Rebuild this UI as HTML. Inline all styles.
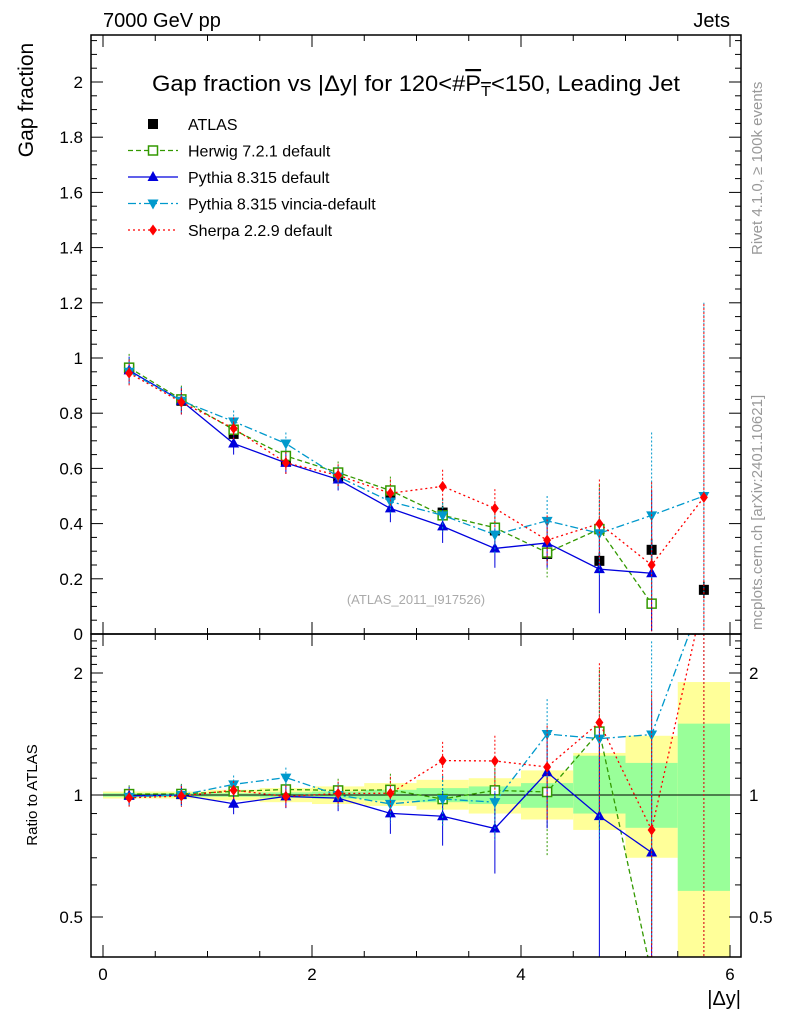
<!DOCTYPE html>
<html><head><meta charset="utf-8"><style>
html,body{margin:0;padding:0;background:#fff;width:786px;height:1024px;overflow:hidden}
svg{display:block}
svg text{font-family:"Liberation Sans",sans-serif}
</style></head><body>
<svg id="c" width="786" height="1024" xmlns="http://www.w3.org/2000/svg">
<text x="103" y="27" font-size="20">7000 GeV pp</text>
<text x="730" y="27" font-size="20" text-anchor="end">Jets</text>
<text x="0" y="0" font-size="21" transform="translate(33,100) rotate(-90)" text-anchor="middle">Gap fraction</text>
<text x="0" y="0" font-size="15" transform="translate(37,795) rotate(-90)" text-anchor="middle">Ratio to ATLAS</text>
<text x="741" y="1005" font-size="20" text-anchor="end">|Δy|</text>
<text x="0" y="0" font-size="15" fill="#999" transform="translate(762,255) rotate(-90)">Rivet 4.1.0, ≥ 100k events</text>
<text x="0" y="0" font-size="15" fill="#999" transform="translate(762,630) rotate(-90)">mcplots.cern.ch [arXiv:2401.10621]</text>
<text x="416" y="604" font-size="13" fill="#aaa" text-anchor="middle">(ATLAS_2011_I917526)</text>
<text x="416" y="91" font-size="22" text-anchor="middle" textLength="528" lengthAdjust="spacingAndGlyphs">Gap fraction vs |Δy| for 120&lt;#<tspan text-decoration="overline">P<tspan font-size="15" dy="5">T</tspan></tspan><tspan dy="-5">&lt;150, Leading Jet</tspan></text>
<g id="bands"></g><g id="marks"></g><g id="axes"></g>
</svg>
<script>
const xCenters=[0.25,0.75,1.25,1.75,2.25,2.75,3.25,3.75,4.25,4.75,5.25,5.75];
const atlas=[0.96,0.845,0.725,0.625,0.57,0.505,0.44,0.375,0.29,0.265,0.305,0.16];
const atlasErr=[0.01,0.01,0.015,0.015,0.015,0.02,0.025,0.025,0.025,0.03,0.04,0.03];
const statUp=[0.01,0.01,0.01,0.015,0.02,0.03,0.04,0.05,0.07,0.25,0.2,0.5];
const statDn=[0.01,0.01,0.01,0.015,0.02,0.03,0.04,0.05,0.07,0.1,0.17,0.42];
const totUp=[0.02,0.02,0.03,0.04,0.05,0.07,0.09,0.1,0.15,0.27,0.4,0.9];
const totDn=[0.02,0.02,0.03,0.04,0.05,0.06,0.08,0.1,0.13,0.18,0.3,0.65];
const herwig=[0.965,0.85,0.74,0.645,0.585,0.52,0.43,0.385,0.295,0.38,0.11,null];
const pythia=[0.955,0.845,0.69,0.62,0.56,0.455,0.39,0.31,0.33,0.235,0.22,null];
const vincia=[0.95,0.845,0.77,0.69,0.57,0.48,0.43,0.36,0.41,0.365,0.43,0.5];
const sherpa=[0.945,0.84,0.745,0.62,0.575,0.51,0.535,0.455,0.34,0.40,0.25,0.495];
const mcErr=[0.05,0.05,0.04,0.04,0.04,0.05,0.06,0.07,0.09,0.16,0.3,0.7];
const yTicks=[0,0.2,0.4,0.6,0.8,1,1.2,1.4,1.6,1.8,2];
const rTicks=[0.5,1,2];
const xTicks=[0,2,4,6];
const NS="http://www.w3.org/2000/svg";
const L=91,Rt=741,T=35,M=634,B=957;
const clamp=(v,a,b)=>Math.max(a,Math.min(b,v));
const X=v=>103+v*104.5;
const Y=v=>clamp(634-v*276,T,M);
const R=v=>clamp(795-Math.log2(Math.max(v,0.01))*122,M,B);
function el(t,a,p){const e=document.createElementNS(NS,t);for(const k in a)e.setAttribute(k,a[k]);p.appendChild(e);return e;}
const svg=document.getElementById('c');
const bands=document.getElementById('bands'),marks=document.getElementById('marks'),axes=document.getElementById('axes');
const defs=el('defs',{},svg);
const clipR=el('clipPath',{id:'cr'},defs);el('rect',{x:L,y:M,width:Rt-L,height:B-M},clipR);
const clipM=el('clipPath',{id:'cm'},defs);el('rect',{x:L,y:T,width:Rt-L,height:M-T},clipM);
bands.setAttribute('clip-path','url(#cr)');
xCenters.forEach((x,i)=>{
 let r=el('rect',{x:X(x-0.25),y:R(1+totUp[i]),width:104.5/2,height:R(1-totDn[i])-R(1+totUp[i]),fill:'#ffff99'},bands);
 
 let g=el('rect',{x:X(x-0.25),y:R(1+statUp[i]),width:104.5/2,height:R(1-statDn[i])-R(1+statUp[i]),fill:'#99ff99'},bands);
 
});
el('line',{x1:L,x2:Rt,y1:R(1),y2:R(1),stroke:'#000','stroke-width':1},bands);
const series=[
 {d:herwig,c:'#339900',dash:'5,3',m:'sq',name:'herwig'},
 {d:pythia,c:'#0000dd',dash:'',m:'tri',name:'pythia'},
 {d:vincia,c:'#0099cc',dash:'8,3,2,3',m:'itri',name:'vincia'},
 {d:sherpa,c:'#ff0000',dash:'2,3',m:'dia',name:'sherpa'}];
function marker(type,cx,cy,c,p){
 if(type=='sq')return el('rect',{x:cx-4.5,y:cy-4.5,width:9,height:9,fill:'#fff',stroke:c,'stroke-width':1.5},p);
 if(type=='tri')return el('polygon',{points:`${cx},${cy-6} ${cx-5.5},${cy+4} ${cx+5.5},${cy+4}`,fill:c},p);
 if(type=='itri')return el('polygon',{points:`${cx},${cy+6} ${cx-5.5},${cy-4} ${cx+5.5},${cy-4}`,fill:c},p);
 if(type=='dia')return el('polygon',{points:`${cx},${cy-5.5} ${cx-4},${cy} ${cx},${cy+5.5} ${cx+4},${cy}`,fill:c},p);
 return el('rect',{x:cx-5,y:cy-5,width:10,height:10,fill:'#000'},p);
}
function drawPanel(useRatio,clip){
 const g=el('g',{'clip-path':clip},marks);
 const lin=useRatio?(v=>795-Math.log2(v)*122):(v=>634-v*276);
 const fy=useRatio?R:Y;
 const top=useRatio?M:T, bot=useRatio?B:M;
 if(!useRatio){atlas.forEach((v,i)=>{const cx=X(xCenters[i]);
  el('line',{x1:cx,x2:cx,y1:fy(v+atlasErr[i]),y2:fy(v-atlasErr[i]),stroke:'#000','stroke-width':1.5},g);
  let m=marker('atl',cx,fy(v),'#000',g);});}
 series.forEach(s=>{
  const pts=[];
  s.d.forEach((v,i)=>{if(v==null)return;const val=useRatio?v/atlas[i]:v;const e=useRatio?mcErr[i]/atlas[i]:mcErr[i];
   const cx=X(xCenters[i]);
   let l=el('line',{x1:cx,x2:cx,y1:fy(val+e),y2:fy(Math.max(val-e,0.01)),stroke:s.c,'stroke-width':1,'stroke-dasharray':s.dash?'2,2':''},g);
   
   pts.push([cx,lin(val)]);});
  // clip polyline segments to panel vertically
  const cp=[];
  for(let k=0;k<pts.length;k++){
   const p=pts[k];
   if(k>0){const q=pts[k-1];
    [top,bot].forEach(lim=>{if((q[1]-lim)*(p[1]-lim)<0){const t=(lim-q[1])/(p[1]-q[1]);cp.push([q[0]+t*(p[0]-q[0]),lim]);}});}
   cp.push([p[0],clamp(p[1],top,bot)]);
  }
  let pl=el('polyline',{points:cp.map(p=>p.join(',')).join(' '),fill:'none',stroke:s.c,'stroke-width':1.3,'stroke-dasharray':s.dash},g);
  
  pts.forEach(p=>{if(p[1]<top||p[1]>bot)return;let m=marker(s.m,p[0],p[1],s.c,g);});
 });
}
drawPanel(false,'url(#cm)');drawPanel(true,'url(#cr)');
el('rect',{x:L,y:T,width:Rt-L,height:M-T,fill:'none',stroke:'#000','stroke-width':1.5},axes);
el('rect',{x:L,y:M,width:Rt-L,height:B-M,fill:'none',stroke:'#000','stroke-width':1.5},axes);
yTicks.forEach(t=>{const y=Y(t);el('line',{x1:L,x2:L+12,y1:y,y2:y,stroke:'#000'},axes);el('line',{x1:Rt,x2:Rt-12,y1:y,y2:y,stroke:'#000'},axes);
 let tx=el('text',{x:L-8,y:y+6,'font-size':17,'text-anchor':'end'},axes);tx.textContent=String(t);
 
 for(let k=1;k<4;k++){const ym=634-(t+k*0.05)*276;if(ym>T){el('line',{x1:L,x2:L+6,y1:ym,y2:ym,stroke:'#000'},axes);el('line',{x1:Rt,x2:Rt-6,y1:ym,y2:ym,stroke:'#000'},axes);}}});
rTicks.forEach(t=>{const y=R(t);el('line',{x1:L,x2:L+12,y1:y,y2:y,stroke:'#000'},axes);el('line',{x1:Rt,x2:Rt-12,y1:y,y2:y,stroke:'#000'},axes);
 let a=el('text',{x:L-8,y:y+6,'font-size':17,'text-anchor':'end'},axes);a.textContent=String(t);
 let b=el('text',{x:Rt+8,y:y+6,'font-size':17},axes);b.textContent=String(t);});
[0.6,0.7,0.8,0.9,1.1,1.2,1.3,1.4,1.5,1.6,1.7,1.8,1.9,2.1,2.2,2.3,2.4].forEach(t=>{const y=R(t);el('line',{x1:L,x2:L+6,y1:y,y2:y,stroke:'#000'},axes);el('line',{x1:Rt,x2:Rt-6,y1:y,y2:y,stroke:'#000'},axes);});
xTicks.forEach(t=>{const x=X(t);[[T,T+12],[M-12,M+12],[B-12,B]].forEach(([a,b])=>el('line',{x1:x,x2:x,y1:a,y2:b,stroke:'#000'},axes));
 let tx=el('text',{x:x,y:980,'font-size':17,'text-anchor':'middle'},axes);tx.textContent=String(t);});
for(let v=0;v<=6.1;v+=0.5){if(v%2==0)continue;const x=X(v);[[T,T+6],[M-6,M+6],[B-6,B]].forEach(([a,b])=>el('line',{x1:x,x2:x,y1:a,y2:b,stroke:'#000'},axes));}
const legNames=['ATLAS','Herwig 7.2.1 default','Pythia 8.315 default','Pythia 8.315 vincia-default','Sherpa 2.2.9 default'];
const legTypes=['atl','sq','tri','itri','dia'];
const legCols=['#000','#339900','#0000dd','#0099cc','#ff0000'];
const legDash=['','5,3','','8,3,2,3','2,3'];
legNames.forEach((n,i)=>{const y=124+i*26.5;const g=el('g',{},axes);
 
 if(i>0)el('line',{x1:128,x2:178,y1:y,y2:y,stroke:legCols[i],'stroke-width':1.3,'stroke-dasharray':legDash[i]},g);
 marker(legTypes[i],153,y,legCols[i],g);
 let t=el('text',{x:188,y:y+6,'font-size':16},g);t.textContent=n;});
</script>
</body></html>
